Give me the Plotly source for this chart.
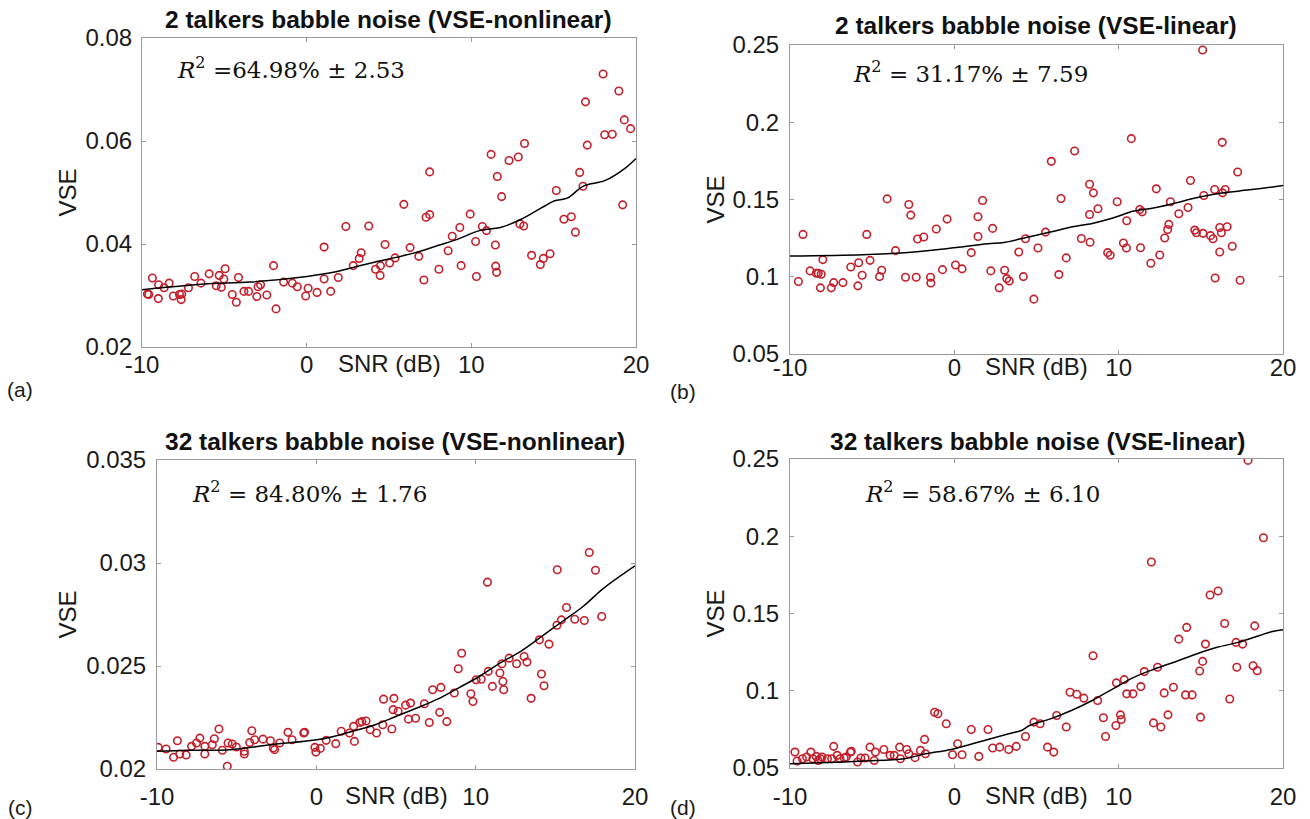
import plotly.graph_objects as go

W, H = 1310, 819

# ---------------- data ----------------
# Panel (a): 2 talkers, VSE-nonlinear
a_snr = [-9.67, -9.59, -9.37, -9.01, -8.99, -8.66, -8.35, -8.10, -7.72, -7.62, -7.59, -7.18, -6.80, -6.42,
         -5.92, -5.49, -5.31, -5.18, -5.03, -4.95, -4.52, -4.27, -4.14, -3.81, -3.53, -3.03, -2.95, -2.80,
         -2.42, -2.01, -1.86, -1.40, -0.87, -0.57, -0.06, 0.09, 0.63, 1.06, 1.06, 1.46, 1.92, 2.38, 2.83,
         3.19, 3.31, 3.77, 4.18, 4.46, 4.48, 4.76, 5.04, 5.37, 5.90, 6.28, 6.81, 7.12, 7.25, 7.47, 7.47,
         8.03, 8.59, 8.84, 9.30, 9.38, 9.93, 10.26, 10.31, 10.67, 10.92, 11.20, 11.46, 11.48, 11.53, 11.58,
         11.84, 12.29, 12.85, 12.95, 13.18, 13.23, 13.66, 14.19, 14.37, 14.78, 15.16, 15.62, 16.07, 16.32,
         16.58, 16.78, 16.93, 17.04, 18.00, 18.10, 18.56, 18.96, 19.19, 19.29, 19.67]
a_vse = [0.0303, 0.0302, 0.0334, 0.0294, 0.0321, 0.0315, 0.0324, 0.0299, 0.0302, 0.0292, 0.0303, 0.0315,
         0.0337, 0.0324, 0.0342, 0.0319, 0.0339, 0.0316, 0.0332, 0.0352, 0.0302, 0.0287, 0.0335, 0.0308,
         0.0308, 0.0298, 0.0317, 0.0321, 0.0301, 0.0358, 0.0274, 0.0326, 0.0324, 0.0317, 0.0299, 0.0314,
         0.0306, 0.0394, 0.0332, 0.0308, 0.0335, 0.0434, 0.0358, 0.0372, 0.0383, 0.0435, 0.0351, 0.0339,
         0.0358, 0.0399, 0.0363, 0.0373, 0.0477, 0.0393, 0.0376, 0.0330, 0.0452, 0.0540, 0.0457, 0.0351,
         0.0387, 0.0415, 0.0432, 0.0358, 0.0458, 0.0405, 0.0337, 0.0434, 0.0426, 0.0574, 0.0398, 0.0357,
         0.0345, 0.0531, 0.0492, 0.0562, 0.0569, 0.0439, 0.0435, 0.0595, 0.0378, 0.0360, 0.0372, 0.0381,
         0.0504, 0.0448, 0.0453, 0.0423, 0.0539, 0.0512, 0.0676, 0.0592, 0.0730, 0.0612, 0.0613, 0.0697,
         0.0476, 0.0641, 0.0624]
a_fit_snr = [-10, -8.53, -5.99, -3.46, 0.02, 1.62, 2.88, 4.15, 5.42, 6.69, 7.96, 9.22, 10.49, 11.76,
             13.03, 14.30, 15.06, 15.82, 16.83, 18.10, 19.37, 20.0]
a_fit_vse = [0.0311, 0.0316, 0.0323, 0.0326, 0.0337, 0.0345, 0.0355, 0.0365, 0.0374, 0.0384, 0.0397,
             0.0410, 0.0426, 0.0432, 0.0448, 0.0471, 0.0484, 0.0489, 0.0513, 0.0523, 0.0548, 0.0566]

# Panel (b): 2 talkers, VSE-linear
b_snr = [-9.49, -9.21, -8.78, -8.40, -8.28, -8.15, -8.10, -8.00, -7.49, -7.34, -6.78, -6.30, -5.87, -5.82,
         -5.61, -5.33, -5.13, -4.55, -4.42, -4.09, -3.58, -2.97, -2.77, -2.65, -2.32, -2.24, -1.86, -1.45,
         -1.43, -1.10, -0.72, -0.44, 0.07, 0.47, 1.03, 1.44, 1.44, 1.72, 2.22, 2.33, 2.73, 3.06, 3.19, 3.34,
         3.92, 4.20, 4.33, 4.84, 5.09, 5.55, 5.90, 6.36, 6.49, 6.81, 7.32, 7.73, 8.23, 8.23, 8.26, 8.46,
         8.74, 9.91, 9.33, 9.48, 10.29, 10.47, 10.49, 10.77, 11.33, 11.28, 11.43, 11.96, 12.29, 12.50,
         12.80, 12.98, 13.05, 13.15, 13.66, 14.22, 14.37, 14.63, 14.73, 15.11, 15.18, 15.13, 15.59, 15.74,
         15.87, 15.84, 16.15, 16.15, 16.30, 16.25, 16.48, 16.60, 16.32, 16.91, 17.24, 17.39]
b_vse = [0.0969, 0.1274, 0.1038, 0.1023, 0.1023, 0.0928, 0.1016, 0.1111, 0.0928, 0.0962, 0.0962, 0.1063,
         0.0941, 0.1091, 0.1010, 0.1274, 0.1106, 0.1001, 0.1042, 0.1504, 0.1169, 0.0997, 0.1468, 0.1399,
         0.0997, 0.1244, 0.1257, 0.0997, 0.0960, 0.1309, 0.1046, 0.1373, 0.1076, 0.1051, 0.1156, 0.1388,
         0.1261, 0.1494, 0.1038, 0.1313, 0.0928, 0.1042, 0.0988, 0.0973, 0.1160, 0.1001, 0.1246, 0.0855,
         0.1186, 0.1289, 0.1747, 0.1014, 0.1506, 0.1122, 0.1814, 0.1248, 0.1599, 0.1403, 0.1223, 0.1543,
         0.1440, 0.1485, 0.1156, 0.1139, 0.1218, 0.1186, 0.1362, 0.1894, 0.1188, 0.1435, 0.1420, 0.1087,
         0.1569, 0.1141, 0.1251, 0.1306, 0.1339, 0.1485, 0.1408, 0.1448, 0.1623, 0.1302, 0.1285, 0.2468,
         0.1526, 0.1281, 0.1266, 0.1246, 0.0992, 0.1565, 0.1160, 0.1319, 0.1870, 0.1285, 0.1565, 0.1324,
         0.1543, 0.1197, 0.1678, 0.0977]
b_fit_snr = [-10, -5.56, -3.03, -0.49, 0.02, 2.05, 2.93, 4.58, 5.85, 7.12, 8.39, 9.65, 10.92, 12.19,
             13.46, 14.73, 15.99, 17.26, 18.53, 20.0]
b_fit_vse = [0.1134, 0.1143, 0.1156, 0.1182, 0.1188, 0.1214, 0.1220, 0.1259, 0.1289, 0.1322, 0.1345,
             0.1380, 0.1425, 0.1446, 0.1478, 0.1511, 0.1537, 0.1554, 0.1569, 0.1590]

# Panel (c): 32 talkers, VSE-nonlinear
c_snr = [-9.92, -9.43, -8.96, -8.72, -8.57, -8.17, -7.83, -7.52, -7.31, -7.00, -7.00, -6.53, -6.40, -6.11,
         -5.90, -5.59, -5.54, -5.28, -5.02, -4.52, -4.52, -4.18, -4.05, -3.87, -3.35, -2.88, -2.70, -2.62,
         -2.30, -1.78, -1.52, -0.79, -0.74, -0.09, -0.03, 0.25, 0.62, 1.22, 1.56, 2.08, 2.39, 2.34, 2.73,
         2.86, 3.12, 3.38, 3.78, 4.17, 4.22, 4.74, 4.82, 4.87, 5.13, 5.78, 5.60, 5.91, 6.23, 6.78, 7.09,
         7.30, 7.74, 7.82, 8.19, 8.66, 8.91, 9.12, 9.70, 9.83, 10.03, 10.35, 10.74, 10.79, 11.05, 11.52,
         11.65, 11.71, 11.76, 12.10, 12.57, 13.04, 13.22, 13.48, 14.00, 14.13, 14.29, 14.60, 15.12, 15.10,
         15.38, 15.70, 16.22, 16.82, 17.13, 17.52, 17.91]
c_vse = [0.02105, 0.02097, 0.02057, 0.02137, 0.02073, 0.02068, 0.02110, 0.02126, 0.02150, 0.02110, 0.02073,
         0.02118, 0.02147, 0.02194, 0.02091, 0.02013, 0.02126, 0.02121, 0.02107, 0.02073, 0.02086, 0.02129,
         0.02186, 0.02142, 0.02145, 0.02137, 0.02102, 0.02094, 0.02126, 0.02178, 0.02142, 0.02175, 0.02178,
         0.02105, 0.02082, 0.02100, 0.02139, 0.02123, 0.02183, 0.02175, 0.02134, 0.02207, 0.02226, 0.02230,
         0.02233, 0.02191, 0.02175, 0.02215, 0.02339, 0.02194, 0.02288, 0.02343, 0.02280, 0.02242, 0.02310,
         0.02320, 0.02246, 0.02317, 0.02226, 0.02385, 0.02275, 0.02396, 0.02230, 0.02369, 0.02487, 0.02562,
         0.02365, 0.02328, 0.02433, 0.02436, 0.02907, 0.02474, 0.02401, 0.02466, 0.02511, 0.02425, 0.02385,
         0.02538, 0.02511, 0.02546, 0.02519, 0.02343, 0.02627, 0.02461, 0.02404, 0.02606, 0.02967, 0.02698,
         0.02724, 0.02784, 0.02727, 0.02721, 0.03051, 0.02965, 0.02740]
c_fit_snr = [-10, -8.04, -5.43, -2.83, 0.04, 1.09, 2.39, 3.70, 5.00, 6.31, 7.61, 8.91, 10.22, 11.52,
             12.83, 14.13, 15.44, 16.74, 18.04, 20.0]
c_fit_vse = [0.02086, 0.02091, 0.02094, 0.02118, 0.02142, 0.02158, 0.02186, 0.02215, 0.02255, 0.02296,
             0.02339, 0.02393, 0.02449, 0.02514, 0.02571, 0.02643, 0.02716, 0.02789, 0.02878, 0.02986]

# Panel (d): 32 talkers, VSE-linear
d_snr = [-9.70, -9.57, -9.24, -8.99, -8.73, -8.61, -8.40, -8.28, -8.15, -8.05, -7.72, -7.46, -7.34, -7.13,
         -6.96, -6.70, -6.58, -6.32, -6.27, -5.89, -5.69, -5.43, -5.13, -4.88, -4.80, -4.29, -3.91, -3.66,
         -3.33, -3.28, -2.90, -2.77, -2.39, -2.06, -1.81, -1.76, -1.20, -1.00, -0.49, -0.11, 0.20, 0.47,
         1.03, 1.49, 2.05, 2.33, 2.76, 3.31, 3.77, 4.33, 4.84, 5.22, 5.67, 6.05, 6.23, 6.81, 7.04, 7.45,
         7.88, 8.44, 8.72, 9.07, 9.20, 9.83, 9.86, 10.11, 10.16, 10.34, 10.49, 10.87, 11.35, 11.56, 12.12,
         11.99, 12.37, 12.57, 12.77, 13.00, 13.33, 13.66, 14.07, 14.14, 14.47, 14.93, 14.98, 15.11, 15.28,
         15.56, 16.05, 16.45, 16.76, 17.14, 17.19, 17.54, 17.87, 18.18, 18.28, 18.43, 18.81]
d_vse = [0.0603, 0.0545, 0.0560, 0.0571, 0.0603, 0.0560, 0.0575, 0.0549, 0.0560, 0.0571, 0.0560, 0.0560,
         0.0640, 0.0582, 0.0560, 0.0565, 0.0571, 0.0603, 0.0608, 0.0539, 0.0565, 0.0565, 0.0635, 0.0549,
         0.0603, 0.0620, 0.0582, 0.0582, 0.0635, 0.0560, 0.0620, 0.0592, 0.0567, 0.0614, 0.0685, 0.0592,
         0.0861, 0.0851, 0.0786, 0.0586, 0.0657, 0.0586, 0.0749, 0.0575, 0.0749, 0.0629, 0.0635, 0.0620,
         0.0640, 0.0704, 0.0797, 0.0786, 0.0635, 0.0603, 0.0840, 0.0765, 0.0990, 0.0977, 0.0952, 0.1227,
         0.0937, 0.0825, 0.0704, 0.0775, 0.1051, 0.0844, 0.0814, 0.1072, 0.0980, 0.0980, 0.1027, 0.1124,
         0.0792, 0.1833, 0.1152, 0.0765, 0.0986, 0.0844, 0.1023, 0.1334, 0.0973, 0.1410, 0.0973, 0.1128,
         0.0829, 0.1190, 0.1302, 0.1620, 0.1646, 0.1435, 0.0947, 0.1313, 0.1152, 0.1302, 0.2491, 0.1162,
         0.1420, 0.1130, 0.1990]
d_fit_snr = [-10, -8.10, -5.56, -3.03, -1.76, -0.49, 0.02, 2.05, 3.31, 4.08, 4.58, 5.85, 7.12, 8.39,
             9.65, 10.92, 12.19, 13.46, 14.73, 15.99, 17.26, 18.53, 19.29, 20.0]
d_fit_vse = [0.0528, 0.0534, 0.0545, 0.0560, 0.0592, 0.0614, 0.0625, 0.0685, 0.0722, 0.0743, 0.0775,
             0.0818, 0.0872, 0.0937, 0.1012, 0.1087, 0.1141, 0.1188, 0.1238, 0.1281, 0.1313, 0.1356,
             0.1382, 0.1395]

titles = ["2 talkers babble noise (VSE-nonlinear)", "2 talkers babble noise (VSE-linear)",
          "32 talkers babble noise (VSE-nonlinear)", "32 talkers babble noise (VSE-linear)"]
r2_texts = ["<i>R</i><sup>2</sup> =64.98% ± 2.53", "<i>R</i><sup>2</sup> = 31.17% ± 7.59",
            "<i>R</i><sup>2</sup> = 84.80% ± 1.76", "<i>R</i><sup>2</sup> = 58.67% ± 6.10"]
panel_letters = ["(a)", "(b)", "(c)", "(d)"]
x_ticks = [-10, 0, 10, 20]
x_ticktext = ["-10", "0", "10", "20"]
x_label = "SNR (dB)"
y_label = "VSE"
y_ticks = [[0.02, 0.04, 0.06, 0.08], [0.05, 0.1, 0.15, 0.2, 0.25],
           [0.02, 0.025, 0.03, 0.035], [0.05, 0.1, 0.15, 0.2, 0.25]]
y_ticktext = [["0.02", "0.04", "0.06", "0.08"], ["0.05", "0.1", "0.15", "0.2", "0.25"],
              ["0.02", "0.025", "0.03", "0.035"], ["0.05", "0.1", "0.15", "0.2", "0.25"]]
y_ranges = [[0.02, 0.08], [0.05, 0.25], [0.02, 0.035], [0.05, 0.25]]

# ---------------- layout geometry (pixels) ----------------
boxes = [(142, 636, 38, 347), (790, 1283, 45, 354), (157, 635, 460, 769), (790, 1283, 459, 768)]
title_pos = [(388, 19), (1036, 25), (395, 441), (1037, 441)]
r2_pos = [(175, 68), (851, 72), (190, 492), (863, 492)]
letter_pos = [(20, 389), (683, 391), (20, 807), (683, 807)]
vse_x = [67, 715, 67, 715]
label_y = [363, 366, 795, 795]
x_standoff = [-4, -8, 6, 7]
y_standoff = [4, 5, 5, 5]


def px(x):
    return x / W


def py(y):
    return 1 - y / H


data_sets = [(a_snr, a_vse, a_fit_snr, a_fit_vse), (b_snr, b_vse, b_fit_snr, b_fit_vse),
             (c_snr, c_vse, c_fit_snr, c_fit_vse), (d_snr, d_vse, d_fit_snr, d_fit_vse)]

SANS = "Liberation Sans, Arial, sans-serif"
fig = go.Figure()
layout = dict(width=W, height=H, margin=dict(l=0, r=0, t=0, b=0, pad=0, autoexpand=False),
              plot_bgcolor="white", paper_bgcolor="white", showlegend=False, annotations=[])
AX_FONT = dict(family=SANS, size=24, color="#1a1a1a")
LINE_C = "#9a9a9a"

for i, (xs, ys, fx, fy) in enumerate(data_sets):
    n = "" if i == 0 else str(i + 1)
    xa, ya = "x" + n, "y" + n
    fig.add_trace(go.Scatter(x=xs, y=ys, mode="markers", xaxis=xa, yaxis=ya,
                             marker=dict(symbol="circle-open", size=7.5, color="#c41f2b",
                                         line=dict(width=1.6))))
    fig.add_trace(go.Scatter(x=fx, y=fy, mode="lines", xaxis=xa, yaxis=ya,
                             line=dict(color="black", width=1.5, shape="spline")))
    x0, x1, y0, y1 = boxes[i]
    layout["xaxis" + n] = dict(domain=[px(x0), px(x1)], range=[-10, 20], anchor=ya,
                               tickvals=x_ticks, ticktext=x_ticktext, ticks="inside", ticklen=4,
                               tickcolor=LINE_C, showline=True, linecolor=LINE_C, linewidth=1,
                               mirror="ticks", showgrid=False, zeroline=False, tickfont=AX_FONT,
                               ticklabelstandoff=x_standoff[i], automargin=False)
    layout["yaxis" + n] = dict(domain=[py(y1), py(y0)], range=y_ranges[i], anchor=xa,
                               tickvals=y_ticks[i], ticktext=y_ticktext[i], ticks="inside", ticklen=4,
                               tickcolor=LINE_C, showline=True, linecolor=LINE_C, linewidth=1,
                               mirror="ticks", showgrid=False, zeroline=False, tickfont=AX_FONT,
                               ticklabelstandoff=y_standoff[i], automargin=False)
    ann = layout["annotations"]
    ann.append(dict(text="<b>" + titles[i] + "</b>", x=px(title_pos[i][0]), y=py(title_pos[i][1]),
                    xref="paper", yref="paper", showarrow=False, xanchor="center", yanchor="middle",
                    font=dict(family=SANS, size=24.5, color="#111")))
    ann.append(dict(text=r2_texts[i], x=px(r2_pos[i][0]), y=py(r2_pos[i][1]),
                    xref="paper", yref="paper", showarrow=False, xanchor="left", yanchor="middle",
                    font=dict(family="DejaVu Serif, Liberation Serif, serif", size=23, color="#111")))
    ann.append(dict(text=panel_letters[i], x=px(letter_pos[i][0]), y=py(letter_pos[i][1]),
                    xref="paper", yref="paper", showarrow=False, xanchor="center", yanchor="middle",
                    font=dict(family=SANS, size=21, color="#1a1a1a")))
    ann.append(dict(text=y_label, x=px(vse_x[i]), y=py((y0 + y1) / 2), textangle=-90,
                    xref="paper", yref="paper", showarrow=False, xanchor="center", yanchor="middle",
                    font=dict(family=SANS, size=24, color="#1a1a1a")))
    ann.append(dict(text=x_label, x=5.0, y=py(label_y[i]), xref=xa, yref="paper",
                    showarrow=False, xanchor="center", yanchor="middle", font=AX_FONT))

fig.update_layout(**layout)
fig.write_html("out.html")
